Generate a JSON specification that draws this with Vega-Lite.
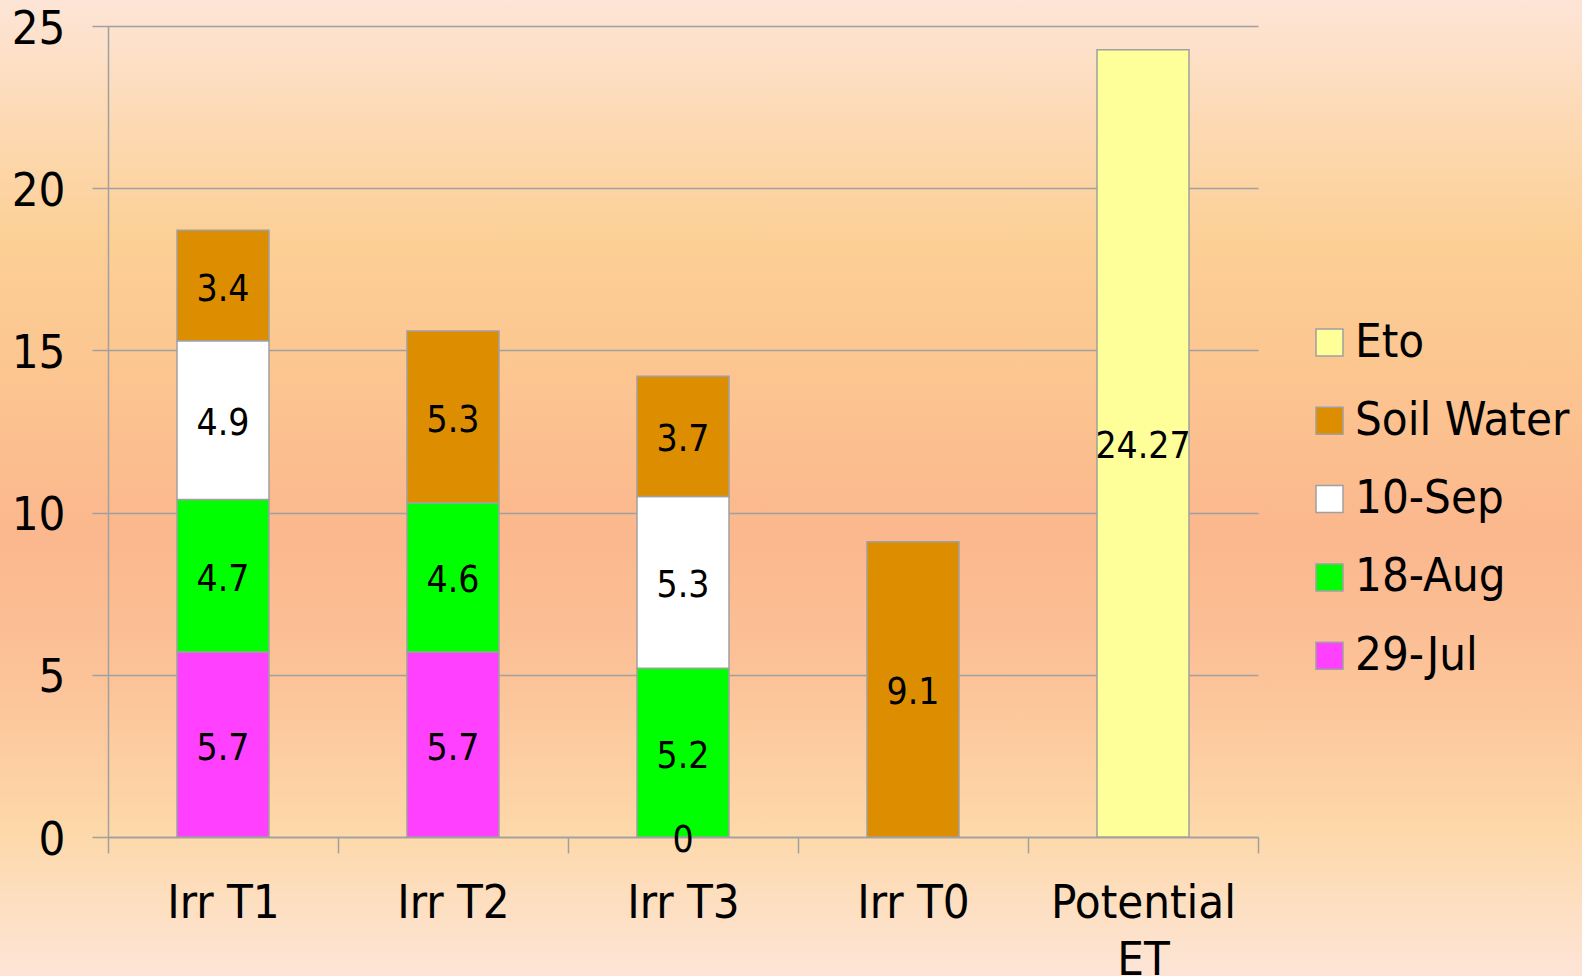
{
  "$schema": "https://vega.github.io/schema/vega-lite/v6.json",
  "padding": 0,
  "background": "#FDE5D7",
  "align": "none",
  "bounds": "full",
  "spacing": -971,
  "config": {
    "view": {"stroke": null},
    "font": "DejaVu Sans Condensed, DejaVu Sans",
    "axis": {"labelFont": "DejaVu Sans Condensed, DejaVu Sans"},
    "legend": {"labelFont": "DejaVu Sans Condensed, DejaVu Sans"}
  },
  "vconcat": [
    {
      "width": 1582,
      "height": 976,
      "data": {"values": [{"part": "background"}]},
      "mark": {
        "type": "rect",
        "strokeWidth": 0,
        "fill": {
          "gradient": "linear",
          "x1": 0, "y1": 0, "x2": 0, "y2": 1,
          "stops": [
            {"offset": 0, "color": "#FDE5D7"},
            {"offset": 0.12, "color": "#FDDAB5"},
            {"offset": 0.25, "color": "#FCCF95"},
            {"offset": 0.4, "color": "#FCC490"},
            {"offset": 0.55, "color": "#FBB78D"},
            {"offset": 0.7, "color": "#FCC399"},
            {"offset": 0.85, "color": "#FDD8A9"},
            {"offset": 1, "color": "#FDE5D7"}
          ]
        }
      },
      "encoding": {}
    },
    {
      "align": "none",
      "bounds": "full",
      "spacing": -1,
      "hconcat": [
        {
          "width": 1,
          "height": 1,
          "data": {"values": []},
          "mark": {"type": "rect", "opacity": 0},
          "encoding": {}
        },
        {
          "width": 1150,
          "height": 811,
          "data": {
            "values": [
              {"treat": "Irr T1", "series": "29-Jul", "k": 0, "v": 5.7},
              {"treat": "Irr T1", "series": "18-Aug", "k": 1, "v": 4.7},
              {"treat": "Irr T1", "series": "10-Sep", "k": 2, "v": 4.9},
              {"treat": "Irr T1", "series": "Soil Water", "k": 3, "v": 3.4},
              {"treat": "Irr T2", "series": "29-Jul", "k": 0, "v": 5.7},
              {"treat": "Irr T2", "series": "18-Aug", "k": 1, "v": 4.6},
              {"treat": "Irr T2", "series": "Soil Water", "k": 3, "v": 5.3},
              {"treat": "Irr T3", "series": "29-Jul", "k": 0, "v": 0},
              {"treat": "Irr T3", "series": "18-Aug", "k": 1, "v": 5.2},
              {"treat": "Irr T3", "series": "10-Sep", "k": 2, "v": 5.3},
              {"treat": "Irr T3", "series": "Soil Water", "k": 3, "v": 3.7},
              {"treat": "Irr T0", "series": "Soil Water", "k": 3, "v": 9.1},
              {"treat": "Potential ET", "series": "Eto", "k": 4, "v": 24.27}
            ]
          },
          "transform": [
            {"stack": "v", "groupby": ["treat"], "sort": [{"field": "k", "order": "ascending"}], "as": ["y0", "y1"]},
            {"calculate": "(datum.y0 + datum.y1) / 2", "as": "mid"}
          ],
          "encoding": {
            "x": {
              "field": "treat",
              "type": "nominal",
              "sort": ["Irr T1", "Irr T2", "Irr T3", "Irr T0", "Potential ET"],
              "scale": {"paddingInner": 0, "paddingOuter": 0},
              "axis": {
                "title": null,
                "labelAngle": 0,
                "labelFontSize": 47,
                "labelColor": "#000000",
                "labelPadding": 27,
                "labelLimit": 0,
                "labelOverlap": false,
                "labelBound": false,
                "labelLineHeight": 57,
                "labelExpr": "datum.label == 'Potential ET' ? ['Potential', 'ET'] : datum.label",
                "tickBand": "extent",
                "tickSize": 16,
                "tickColor": "#A0A0A0",
                "tickWidth": 1.5,
                "domainColor": "#A0A0A0",
                "domainWidth": 1.5,
                "grid": false
              }
            }
          },
          "layer": [
            {
              "mark": {"type": "bar", "width": {"band": 0.4}, "stroke": "#A0A0A0", "strokeWidth": 1.5},
              "encoding": {
                "y": {
                  "field": "y0",
                  "type": "quantitative",
                  "scale": {"domain": [0, 25], "nice": false},
                  "axis": {
                    "title": null,
                    "values": [0, 5, 10, 15, 20, 25],
                    "labelFontSize": 47,
                    "labelColor": "#000000",
                    "labelPadding": 27,
                    "labelOffset": 3,
                    "minExtent": 108,
                    "maxExtent": 108,
                    "tickSize": 16,
                    "tickColor": "#A0A0A0",
                    "tickWidth": 1.5,
                    "domainColor": "#A0A0A0",
                    "domainWidth": 1.5,
                    "gridColor": "#A0A0A0",
                    "gridWidth": 1.5
                  }
                },
                "y2": {"field": "y1"},
                "color": {
                  "field": "series",
                  "type": "nominal",
                  "scale": {
                    "domain": ["Eto", "Soil Water", "10-Sep", "18-Aug", "29-Jul"],
                    "range": ["#FFFF99", "#DD8E00", "#FFFFFF", "#00FF00", "#FF40FF"]
                  },
                  "legend": {
                    "title": null,
                    "orient": "none",
                    "legendX": 1306,
                    "legendY": 319,
                    "padding": 0,
                    "symbolType": "square",
                    "symbolSize": 729,
                    "symbolStrokeColor": "#A0A0A0",
                    "symbolStrokeWidth": 1.5,
                    "symbolOpacity": 1,
                    "labelFontSize": 47,
                    "labelColor": "#000000",
                    "labelOffset": 2,
                    "labelLimit": 600,
                    "rowPadding": 30.3
                  }
                }
              }
            },
            {
              "mark": {"type": "text", "fontSize": 37, "color": "#000000", "baseline": "middle", "align": "center", "dy": 4},
              "encoding": {
                "y": {"field": "mid", "type": "quantitative"},
                "text": {"field": "v", "type": "quantitative"}
              }
            }
          ]
        }
      ]
    }
  ]
}
